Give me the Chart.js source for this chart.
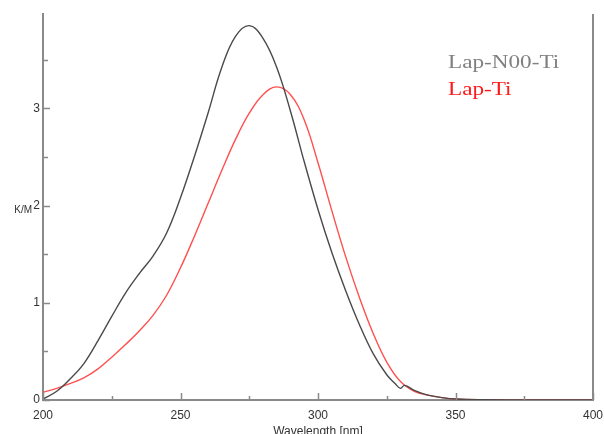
<!DOCTYPE html>
<html>
<head>
<meta charset="utf-8">
<script src="https://cdn.jsdelivr.net/npm/chart.js@4.4.1/dist/chart.umd.min.js"></script>
<style>
html, body { margin: 0; padding: 0; overflow: hidden; background: #fff; }
#wrap { position: relative; width: 604px; height: 440px; }
</style>
</head>
<body>
<div id="wrap"><canvas id="c1"></canvas></div>
<script>
// Kubelka-Munk spectra, K/M against wavelength in nm
var seriesNames = ['Lap-N00-Ti', 'Lap-Ti'];

var n00Wavelengths = [200, 205, 210, 215, 220, 225, 230, 235, 240, 245, 250, 255, 260, 265, 270, 275, 280, 285, 290, 295, 300, 305, 310, 315, 320, 325, 328, 330, 331.5, 335, 340, 345, 350, 360, 380, 400];
var n00Values = [0.01, 0.09, 0.22, 0.38, 0.61, 0.86, 1.10, 1.30, 1.48, 1.72, 2.08, 2.50, 2.95, 3.42, 3.74, 3.85, 3.72, 3.42, 2.97, 2.45, 1.96, 1.52, 1.13, 0.78, 0.48, 0.26, 0.17, 0.12, 0.15, 0.10, 0.05, 0.025, 0.01, 0.003, 0, 0];

var tiWavelengths = [200, 205, 210, 215, 220, 225, 230, 235, 240, 245, 250, 255, 260, 265, 270, 275, 280, 285, 290, 295, 300, 305, 310, 315, 320, 325, 330, 335, 340, 345, 350, 360, 380, 400];
var tiValues = [0.08, 0.12, 0.17, 0.23, 0.32, 0.44, 0.57, 0.71, 0.87, 1.08, 1.36, 1.68, 2.02, 2.36, 2.68, 2.95, 3.14, 3.22, 3.14, 2.88, 2.44, 1.95, 1.48, 1.06, 0.69, 0.39, 0.19, 0.09, 0.05, 0.025, 0.01, 0.003, 0, 0];

var xTicks = [200, 250, 300, 350, 400];
var xMinorTicks = [225, 275, 325, 375];
var yTicks = [0, 1, 2, 3];
var yMinorTicks = [0.5, 1.5, 2.5, 3.5];

function toPoints(xs, ys) {
    return xs.map(function (x, i) { return { x: x, y: ys[i] }; });
}

var axisColor = '#8a8a8a';
var labelColor = '#333333';
var legendColors = ['#808080', '#ff1a1a'];

// inward tick marks, right frame line, horizontal K/M label and the text legend
var decorations = {
    id: 'decorations',
    afterDraw: function (chart) {
        var ctx = chart.ctx;
        var area = chart.chartArea;
        var xs = chart.scales.x, ys = chart.scales.y;
        ctx.save();
        ctx.strokeStyle = axisColor;
        ctx.lineWidth = 1.5;
        ctx.beginPath();
        xTicks.forEach(function (v) {
            var px = Math.round(xs.getPixelForValue(v)) + 0.5;
            ctx.moveTo(px, area.bottom); ctx.lineTo(px, area.bottom - 7);
        });
        xMinorTicks.forEach(function (v) {
            var px = Math.round(xs.getPixelForValue(v)) + 0.5;
            ctx.moveTo(px, area.bottom); ctx.lineTo(px, area.bottom - 4);
        });
        yTicks.forEach(function (v) {
            var py = Math.round(ys.getPixelForValue(v)) + 0.5;
            ctx.moveTo(area.left, py); ctx.lineTo(area.left + 7, py);
        });
        yMinorTicks.forEach(function (v) {
            var py = Math.round(ys.getPixelForValue(v)) + 0.5;
            ctx.moveTo(area.left, py); ctx.lineTo(area.left + 5, py);
        });
        ctx.stroke();

        ctx.lineWidth = 2;
        ctx.beginPath();
        ctx.moveTo(area.right, area.top);
        ctx.lineTo(area.right, area.bottom);
        ctx.stroke();

        ctx.fillStyle = labelColor;
        ctx.font = '10px "Liberation Sans", Arial, sans-serif';
        ctx.textAlign = 'right';
        ctx.textBaseline = 'middle';
        ctx.fillText('K/M', 32, ys.getPixelForValue(2) + 5);

        ctx.font = '19px "Liberation Serif", "Times New Roman", serif';
        ctx.textAlign = 'left';
        ctx.textBaseline = 'alphabetic';
        chart.data.datasets.forEach(function (ds, i) {
            ctx.save();
            ctx.translate(448, 68 + i * 27);
            ctx.scale(1.22, 1);
            ctx.fillStyle = legendColors[i];
            ctx.fillText(ds.label, 0, 0);
            ctx.restore();
        });
        ctx.restore();
    }
};

var data = {
    datasets: [
        {
            label: seriesNames[0],
            data: toPoints(n00Wavelengths, n00Values),
            borderColor: '#4a4a4a',
            borderWidth: 1.4,
            pointRadius: 0,
            tension: 0.4
        },
        {
            label: seriesNames[1],
            data: toPoints(tiWavelengths, tiValues),
            borderColor: '#ff5050',
            borderWidth: 1.4,
            pointRadius: 0,
            tension: 0.4
        }
    ]
};

var options = {
    responsive: true,
    maintainAspectRatio: false,
    animation: false,
    layout: { padding: { top: 14, right: 11, left: 0, bottom: 0 } },
    plugins: {
        legend: { display: false },
        tooltip: { enabled: false }
    },
    scales: {
        x: {
            type: 'linear',
            min: 200,
            max: 400,
            afterBuildTicks: function (s) { s.ticks = xTicks.map(function (v) { return { value: v }; }); },
            afterFit: function (s) { s.height = 40; s.paddingLeft = 0; s.paddingRight = 0; },
            grid: { display: false, drawTicks: false },
            border: { display: true, color: axisColor, width: 2 },
            ticks: {
                padding: 8,
                color: labelColor,
                font: { family: '"Liberation Sans", Arial, sans-serif', size: 12 },
                maxRotation: 0
            },
            title: {
                display: true,
                text: 'Wavelength [nm]',
                color: labelColor,
                font: { family: '"Liberation Sans", Arial, sans-serif', size: 12 },
                padding: { top: 0, bottom: 1 }
            }
        },
        y: {
            min: 0,
            max: 3.97,
            afterBuildTicks: function (s) { s.ticks = yTicks.map(function (v) { return { value: v }; }); },
            afterFit: function (s) { s.width = 43; s.paddingTop = 0; s.paddingBottom = 0; },
            grid: { display: false, drawTicks: false },
            border: { display: true, color: axisColor, width: 2 },
            ticks: {
                padding: 3,
                color: labelColor,
                font: { family: '"Liberation Sans", Arial, sans-serif', size: 12 }
            }
        }
    }
};

var ctx = document.getElementById('c1').getContext('2d');
var chart = new Chart(ctx, {
    type: 'line',
    data: data,
    options: options,
    plugins: [decorations]
});
</script>
</body>
</html>
